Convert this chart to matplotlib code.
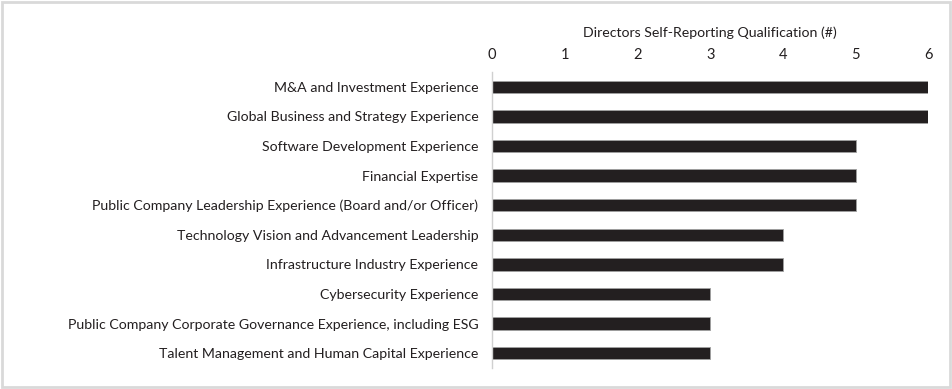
import matplotlib.pyplot as plt
from matplotlib.patches import Rectangle

plt.rcParams['font.family'] = ['Lato', 'DejaVu Sans']

categories = [
    "M&A and Investment Experience",
    "Global Business and Strategy Experience",
    "Software Development Experience",
    "Financial Expertise",
    "Public Company Leadership Experience (Board and/or Officer)",
    "Technology Vision and Advancement Leadership",
    "Infrastructure Industry Experience",
    "Cybersecurity Experience",
    "Public Company Corporate Governance Experience, including ESG",
    "Talent Management and Human Capital Experience",
]
values = [6, 6, 5, 5, 5, 4, 4, 3, 3, 3]
xticks = [0, 1, 2, 3, 4, 5, 6]
axis_title = "Directors Self-Reporting Qualification (#)"

fig = plt.figure(figsize=(9.52, 3.89), dpi=100)
ax = fig.add_axes([0.517, 0.054, 0.458, 0.761])

ypos = range(len(categories))
ax.barh(ypos, values, height=0.42, color='#231f20', edgecolor='#a0a0a0', linewidth=0.6)
ax.set_ylim(len(categories) - 0.5, -0.5)
ax.set_xlim(0, 6)
ax.set_yticks(list(ypos))
ax.set_yticklabels(categories, fontsize=10.2, color='#231f20')
ax.set_xticks(xticks)
ax.xaxis.tick_top()
ax.xaxis.set_label_position('top')
ax.set_xlabel(axis_title, fontsize=10.2, color='#231f20', labelpad=8)
ax.tick_params(axis='x', length=0, labelsize=10.5, labelcolor='#231f20', pad=7)
ax.tick_params(axis='y', length=0, pad=10)
for s in ['top', 'right', 'bottom']:
    ax.spines[s].set_visible(False)
ax.spines['left'].set_color('#d0d0d0')
ax.spines['left'].set_linewidth(1.0)

# light frame around the figure
fig.patches.append(Rectangle((0.002, 0.004), 0.996, 0.992, transform=fig.transFigure,
                             fill=False, edgecolor='#d9d9d9', linewidth=2))

fig.savefig('out.png', dpi=100)
